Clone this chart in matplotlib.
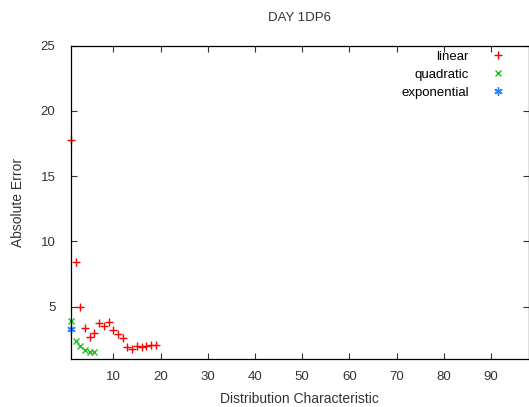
import matplotlib
matplotlib.use('Agg')
import matplotlib.pyplot as plt

plt.rcParams['font.family'] = ['Liberation Sans', 'DejaVu Sans']

# absolute error per distribution characteristic, one series per fit
lin_x = [1, 2, 3, 4, 5, 6, 7, 8, 9, 10, 11, 12, 13, 14, 15, 16, 17, 18, 19]
lin_y = [17.8, 8.45, 5.0, 3.35, 2.7, 3.0, 3.73, 3.55, 3.85, 3.2, 2.93, 2.62,
         1.9, 1.78, 1.96, 1.91, 2.01, 2.09, 2.04]
quad_x = [1, 2, 3, 4, 5, 6]
quad_y = [3.88, 2.35, 2.0, 1.68, 1.55, 1.5]
exp_x = [1]
exp_y = [3.27]

xticks = [10, 20, 30, 40, 50, 60, 70, 80, 90]
yticks = [5, 10, 15, 20, 25]

txt = '#333333'

fig = plt.figure(figsize=(5.29, 4.07), dpi=100)
ax = fig.add_axes([0.1338, 0.118, 0.866, 0.7697])

ax.plot(lin_x, lin_y, '+', color='#ff0000', ms=6, mew=1, label='linear', clip_on=False)
ax.plot(quad_x, quad_y, 'x', color='#20c020', ms=5, mew=1, label='quadratic', clip_on=False)
ax.plot(exp_x, exp_y, marker=(6, 2, 0), ls='none', color='#2080ff', ms=6, mew=1,
        label='exponential', clip_on=False)

ax.set_xlim(1, 98)
ax.set_ylim(1, 25)
ax.set_xticks(xticks)
ax.set_yticks(yticks)
ax.tick_params(direction='in', length=4, width=0.8, top=True, right=True,
               labelsize=9.5, colors=txt)
ax.tick_params(axis='x', pad=9)
ax.tick_params(axis='y', pad=11)
for s in ax.spines.values():
    s.set_linewidth(0.9)

ax.set_title('DAY 1DP6', fontsize=9.5, pad=18, color=txt)
ax.set_xlabel('Distribution Characteristic', fontsize=10, color=txt, labelpad=6)
ax.set_ylabel('Absolute Error', fontsize=10, color=txt, labelpad=11)

ax.legend(loc='upper right', frameon=False, markerfirst=False, fontsize=9.5,
          handletextpad=1.2, borderaxespad=0.2, labelspacing=0.45,
          bbox_to_anchor=(0.978, 1.01))

fig.savefig('out.png', dpi=100)
